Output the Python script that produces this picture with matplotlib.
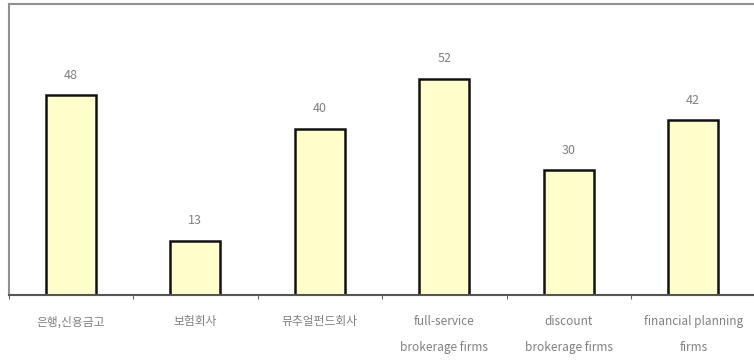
import numpy as np
import matplotlib
matplotlib.use("Agg")
import matplotlib.pyplot as plt

plt.rcParams["font.family"] = ["Noto Sans CJK KR", "DejaVu Sans"]

categories = [
    "은행,신용금고",
    "보험회사",
    "뮤추얼펀드회사",
    "full-service\nbrokerage firms",
    "discount\nbrokerage firms",
    "financial planning\nfirms",
]
values = [48, 13, 40, 52, 30, 42]

fig = plt.figure(figsize=(7.54, 3.6), dpi=100)
ax = fig.add_axes([8.5 / 754, 65 / 360, 747 / 754, 291 / 360])

x = np.arange(len(categories))
ax.bar(x, values, width=0.4, color="#ffffcc", edgecolor="#111111", linewidth=1.8)

for xi, v in zip(x, values):
    ax.text(xi, v + 3.3, str(v), ha="center", va="bottom", fontsize=9, color="#808080")

ax.set_xlim(-0.5, len(categories) - 0.5)
ax.set_ylim(0, 70)
ax.set_yticks([])
ax.set_xticks(np.arange(len(categories) + 1) - 0.5)
ax.set_xticklabels([])
ax.tick_params(axis="x", length=3, color="#666666", direction="out")

for xi, lab in zip(x, categories):
    ax.text(xi, -0.07, lab, transform=ax.get_xaxis_transform(), ha="center", va="top",
            fontsize=8.5, color="#808080", linespacing=2.3)

for side in ["left", "top", "right"]:
    ax.spines[side].set_color("#909090")
    ax.spines[side].set_linewidth(1.5)
ax.spines["bottom"].set_color("#555555")
ax.spines["bottom"].set_linewidth(1.5)

fig.savefig("out.png", dpi=100)
